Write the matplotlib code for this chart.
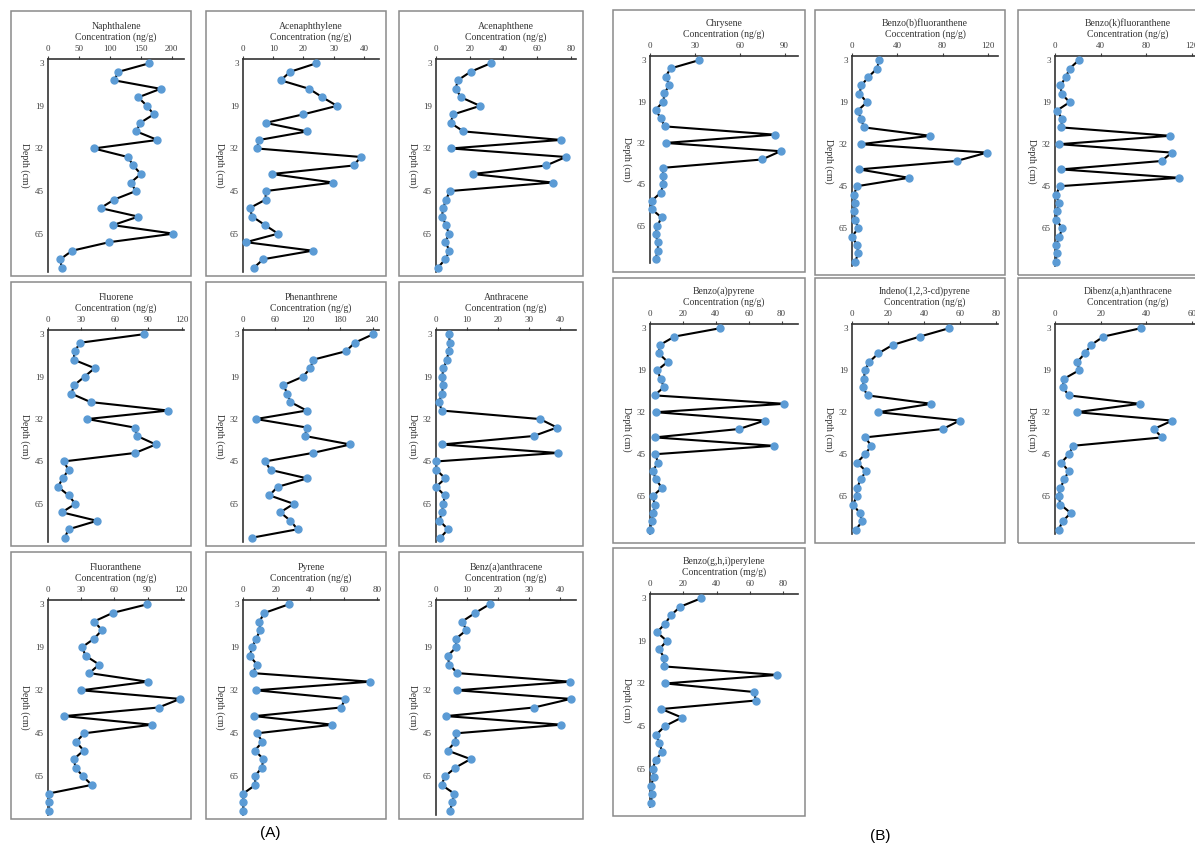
import matplotlib
matplotlib.use('Agg')
import matplotlib.pyplot as plt
from matplotlib.patches import Rectangle

plt.rcParams['font.family'] = ['Liberation Serif', 'DejaVu Serif']

W, H = 1195, 846

# depth axis is a category axis: 25 samples, a label on every 5th
n_samples = 25
depth_labels = ['3', '19', '32', '45', '65']
label_step = 5

# concentrations (ng/g), top of the core first
naphthalene = [164, 114, 107, 182, 146, 160, 171, 149, 143, 177, 74, 129, 138, 150, 134,
               142, 107, 85, 146, 105, 203, 99, 39, 20, 22]
acenaphthylene = [24.3, 15.6, 12.5, 21.9, 26.3, 31.1, 19.9, 7.5, 21.2, 5.4, 4.5, 39, 36.6, 9.5, 29.9,
                  7.5, 7.5, 2.2, 3.1, 7.3, 11.6, 1.0, 23, 6.7, 3.6]
acenaphthene = [32.4, 20.5, 12.9, 11.7, 14.9, 26.1, 10.3, 8.6, 16.3, 74, 8.8, 77, 65.3, 21.7, 69.1,
                8.2, 6.0, 4.2, 3.6, 6.0, 7.6, 5.6, 8.0, 5.6, 1.0]
fluorene = [85.7, 29, 23.9, 23, 41.8, 32.8, 23.6, 20.9, 38.2, 108, 35.2, 77.6, 80, 96.7, 78.2,
            14, 18.5, 13.1, 9, 18.5, 24.5, 12.5, 43.9, 18.5, 15]
phenanthrene = [241, 207, 191, 130, 125, 111, 75, 82, 88, 118, 24, 118, 115, 199, 129,
                41, 51, 119, 64, 49, 94, 69, 88, 101, 16]
anthracene = [4.2, 4.4, 4.1, 3.5, 2.4, 2.0, 2.2, 2.0, 0.9, 1.9, 33.4, 38.9, 31.4, 1.9, 39.1,
              0.1, 0.1, 3.0, 0.0, 2.8, 2.4, 1.9, 1.1, 3.9, 1.4]
fluoranthene = [89.8, 58.5, 41.6, 48.9, 41.6, 30.7, 34.2, 46.2, 37.5, 90.1, 30.1, 119.4, 100, 14.6, 93.7,
                32.8, 25.5, 32.2, 23.4, 24.9, 31.6, 39.5, 0.6, 0.9, 0.9]
pyrene = [27.3, 12.8, 9.7, 10.3, 7.8, 5.4, 4.1, 8.3, 5.8, 75.6, 7.8, 61, 58.3, 6.8, 53.3,
          8.3, 11.6, 7.0, 12.2, 11.2, 7.0, 7.4, 0.2, 0.2, 0.2]
benz_a_anthracene = [17.2, 12.6, 8.4, 9.8, 6.4, 6.5, 3.7, 4.3, 6.8, 43.1, 6.8, 43.3, 31.5, 3.2, 40.3,
                     6.5, 6.2, 3.7, 11.1, 6.2, 2.9, 1.8, 5.8, 5.3, 4.5]
chrysene = [32.9, 13.8, 10.4, 13, 9.6, 9, 3.7, 7.2, 9.8, 83.4, 10.4, 87.3, 74.9, 9, 8.5,
            9, 7.2, 1.1, 1.1, 7.7, 5, 3.7, 5.3, 5.3, 3.7]
benzo_b_fluoranthene = [24.1, 22, 14.5, 8.3, 6.6, 13.1, 5.2, 7.9, 10.7, 69, 7.6, 119.3, 92.4, 6.2, 50.3,
                        4.5, 1.7, 2.8, 1.4, 2.8, 5.5, 0.0, 4.5, 5.5, 2.8]
benzo_k_fluoranthene = [20.8, 12.8, 9.6, 4.8, 5.8, 12.8, 1.6, 6.4, 5.4, 100.8, 3.8, 102.4, 93.4, 5.4, 108.8,
                        4.2, 1.0, 3.2, 1.6, 1.0, 6.4, 3.8, 1.0, 1.6, 0.6]
benzo_a_pyrene = [42.7, 14.8, 6.0, 5.3, 10.7, 4.5, 6.4, 8.4, 2.9, 81.6, 3.6, 69.7, 54.2, 2.9, 75.2,
                  3.3, 4.8, 1.7, 3.6, 7.2, 1.7, 2.9, 2.1, 1.0, 0.0]
indeno_pyrene = [53.9, 37.6, 22.5, 14.6, 9.7, 7.1, 6.7, 6.0, 8.6, 44, 14.6, 59.7, 50.4, 7.3, 10.7,
                 7.3, 2.8, 7.7, 4.9, 2.8, 2.6, 0.6, 4.3, 5.6, 2.1]
dibenz_ah_anthracene = [37.6, 21.2, 15.8, 13.1, 9.8, 10.6, 4.1, 3.3, 6.0, 37.1, 9.5, 51.4, 43.3, 46.9, 7.8,
                        6.2, 2.8, 6.0, 4.1, 2.4, 1.6, 2.4, 6.9, 3.3, 1.6]
benzo_ghi_perylene = [30.7, 18.1, 12.6, 9.0, 4.2, 10.1, 5.5, 8.6, 8.4, 76.3, 9.2, 62.6, 63.7, 6.9, 19.1,
                      9.0, 3.8, 5.5, 7.4, 3.4, 1.7, 2.3, 0.6, 1.3, 0.6]

# (title, values, x ticks, x max, frame box in px (x0, y0, x1, y1), group)
panels = [
    ('Naphthalene\nConcentration (ng/g)', naphthalene, [0, 50, 100, 150, 200], 220, (11, 11, 191, 276), 'A'),
    ('Acenaphthylene\nConcentration (ng/g)', acenaphthylene, [0, 10, 20, 30, 40], 45, (206, 11, 386, 276), 'A'),
    ('Acenaphthene\nConcentration (ng/g)', acenaphthene, [0, 20, 40, 60, 80], 83, (399, 11, 583, 276), 'A'),
    ('Fluorene\nConcentration (ng/g)', fluorene, [0, 30, 60, 90, 120], 122, (11, 282, 191, 546), 'A'),
    ('Phenanthrene\nConcentration (ng/g)', phenanthrene, [0, 60, 120, 180, 240], 252, (206, 282, 386, 546), 'A'),
    ('Anthracene\nConcentration (ng/g)', anthracene, [0, 10, 20, 30, 40], 45, (399, 282, 583, 546), 'A'),
    ('Fluoranthene\nConcentration (ng/g)', fluoranthene, [0, 30, 60, 90, 120], 123, (11, 552, 191, 819), 'A'),
    ('Pyrene\nConcentration (ng/g)', pyrene, [0, 20, 40, 60, 80], 81, (206, 552, 386, 819), 'A'),
    ('Benz(a)anthracene\nConcentration (ng/g)', benz_a_anthracene, [0, 10, 20, 30, 40], 45, (399, 552, 583, 819), 'A'),
    ('Chrysene\nConcentration (ng/g)', chrysene, [0, 30, 60, 90], 99, (613, 10, 805, 272), 'B'),
    ('Benzo(b)fluoranthene\nCoccentration (ng/g)', benzo_b_fluoranthene, [0, 40, 80, 120], 129, (815, 10, 1005, 275), 'B'),
    ('Benzo(k)fluoranthene\nConcentration (ng/g)', benzo_k_fluoranthene, [0, 40, 80, 120], 128, (1018, 10, 1208, 275), 'B'),
    ('Benzo(a)pyrene\nConcentration (ng/g)', benzo_a_pyrene, [0, 20, 40, 60, 80], 90, (613, 278, 805, 543), 'B'),
    ('Indeno(1,2,3-cd)pyrene\nConcentration (ng/g)', indeno_pyrene, [0, 20, 40, 60, 80], 81, (815, 278, 1005, 543), 'B'),
    ('Dibenz(a,h)anthracene\nConcentration (ng/g)', dibenz_ah_anthracene, [0, 20, 40, 60], 64, (1018, 278, 1208, 543), 'B'),
    ('Benzo(g,h,i)perylene\nConcentration (mg/g)', benzo_ghi_perylene, [0, 20, 40, 60, 80], 89, (613, 548, 805, 816), 'B'),
]

fig = plt.figure(figsize=(W / 100, H / 100), dpi=100)
fig.patch.set_facecolor('white')

for title, vals, ticks, xmax, (x0, y0, x1, y1), grp in panels:
    # outer frame of each small chart
    fig.add_artist(Rectangle((x0 / W, 1 - y1 / H), (x1 - x0) / W, (y1 - y0) / H,
                             transform=fig.transFigure, fill=False,
                             edgecolor='#8a8a8a', linewidth=1.1))
    top_off = 48 if grp == 'A' else 46
    bot_off = 4 if grp == 'A' else 9
    ax_l, ax_r = x0 + 37, x1 - 7
    ax_t, ax_b = y0 + top_off, y1 - bot_off
    ax = fig.add_axes([ax_l / W, 1 - ax_b / H, (ax_r - ax_l) / W, (ax_b - ax_t) / H])
    ax.patch.set_alpha(0)

    idx = list(range(len(vals)))
    ax.plot(vals, idx, color='black', linewidth=1.5, zorder=2, clip_on=False)
    ax.plot(vals, idx, 'o', color='#5b9bd5', markersize=5, zorder=3, clip_on=False)

    ax.set_xlim(0, xmax)
    ax.set_ylim(n_samples - 0.5, -0.5)
    ax.xaxis.tick_top()
    ax.set_xticks(ticks)
    ax.set_yticks(range(0, n_samples, label_step))
    ax.set_yticklabels(depth_labels)
    ax.tick_params(axis='x', length=2, width=0.8, labelsize=6.5, pad=2,
                   labelcolor='#404040', color='#404040')
    ax.tick_params(axis='y', length=0, labelsize=6.5, pad=3, labelcolor='#404040')
    for s in ['right', 'bottom']:
        ax.spines[s].set_visible(False)
    for s in ['top', 'left']:
        ax.spines[s].set_color('#333333')
        ax.spines[s].set_linewidth(1.2)

    fig.text((ax_l + ax_r) / 2 / W, 1 - (ax_t - 17) / H, title, ha='center', va='bottom',
             fontsize=7, color='#333333', linespacing=1.25)
    fig.text((ax_l - 23) / W, 1 - (ax_t + ax_b) / 2 / H, 'Depth (cm)', rotation=270,
             ha='center', va='center', fontsize=7, color='#333333')

fig.text(270 / W, 1 - 833 / H, '(A)', ha='center', va='center', fontsize=11,
         family=['Liberation Sans', 'DejaVu Sans'])
fig.text(880 / W, 1 - 836 / H, '(B)', ha='center', va='center', fontsize=11,
         family=['Liberation Sans', 'DejaVu Sans'])

fig.savefig('out.png', dpi=100, facecolor='white')
